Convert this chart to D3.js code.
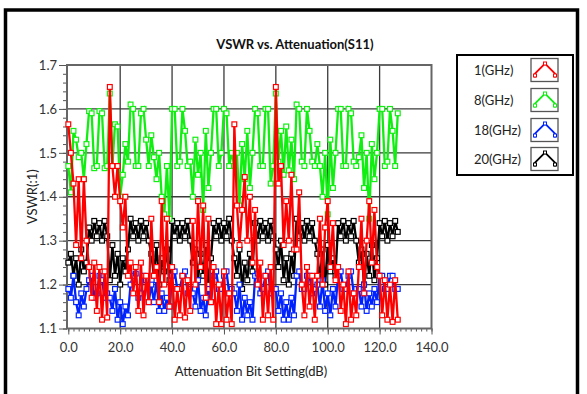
<!DOCTYPE html>
<html>
<head>
<meta charset="utf-8">
<script src="https://cdn.jsdelivr.net/npm/d3@7"></script>
<style>
  body { margin: 0; background: #fff; }
  svg { display: block; font-family: Lato, "Liberation Sans", sans-serif; }
</style>
</head>
<body>
<svg width="587" height="394"></svg>
<script>
// legend labels and colours
const seriesNames = ["1(GHz)", "8(GHz)", "18(GHz)", "20(GHz)"];
const seriesColors = ["#ff0000", "#11ee11", "#0022ff", "#000000"];
const xTicks = [0, 20, 40, 60, 80, 100, 120, 140];
const yTicks = [1.1, 1.2, 1.3, 1.4, 1.5, 1.6, 1.7];

// VSWR per attenuation bit setting 0..127 (array index = setting)
const vswr1GHz = [
  1.565,1.50,1.43,1.29,1.44,1.26,1.44,1.30, 1.24,1.17,1.25,1.14,1.24,1.12,1.23,1.125,
  1.65,1.47,1.40,1.47,1.39,1.33,1.40,1.22, 1.25,1.18,1.24,1.14,1.25,1.13,1.22,1.16,
  1.35,1.22,1.24,1.16,1.39,1.20,1.35,1.15, 1.24,1.12,1.19,1.13,1.22,1.125,1.21,1.14,
  1.345,1.20,1.39,1.24,1.38,1.17,1.35,1.16, 1.24,1.11,1.20,1.11,1.23,1.12,1.18,1.11,
  1.565,1.38,1.29,1.37,1.445,1.30,1.40,1.25, 1.37,1.20,1.25,1.12,1.22,1.13,1.24,1.12,
  1.65,1.43,1.47,1.29,1.39,1.30,1.45,1.28, 1.28,1.41,1.20,1.13,1.24,1.15,1.22,1.12,
  1.22,1.35,1.20,1.33,1.39,1.24,1.34,1.21, 1.24,1.14,1.20,1.11,1.23,1.12,1.18,1.13,
  1.24,1.35,1.18,1.30,1.39,1.25,1.37,1.24, 1.22,1.13,1.21,1.12,1.20,1.115,1.21,1.12
];
const vswr8GHz = [
  1.47,1.41,1.55,1.53,1.49,1.50,1.44,1.52, 1.595,1.59,1.465,1.47,1.595,1.59,1.465,1.47,
  1.635,1.47,1.565,1.56,1.40,1.45,1.52,1.48, 1.61,1.60,1.47,1.47,1.59,1.60,1.53,1.47,
  1.54,1.49,1.44,1.50,1.40,1.36,1.47,1.35, 1.60,1.60,1.47,1.48,1.60,1.55,1.47,1.48,
  1.40,1.53,1.45,1.50,1.37,1.55,1.42,1.50, 1.60,1.60,1.47,1.50,1.60,1.59,1.47,1.50,
  1.47,1.50,1.38,1.52,1.44,1.55,1.42,1.50, 1.60,1.59,1.47,1.47,1.60,1.60,1.43,1.47,
  1.635,1.48,1.55,1.45,1.56,1.46,1.53,1.44, 1.61,1.60,1.48,1.47,1.60,1.55,1.48,1.47,
  1.52,1.47,1.40,1.50,1.36,1.53,1.42,1.50, 1.60,1.60,1.47,1.47,1.60,1.59,1.48,1.47,
  1.49,1.54,1.42,1.50,1.35,1.52,1.44,1.50, 1.60,1.60,1.47,1.48,1.60,1.55,1.47,1.59
];
const vswr18GHz = [
  1.19,1.17,1.22,1.16,1.13,1.18,1.15,1.19, 1.21,1.22,1.17,1.18,1.22,1.21,1.17,1.18,
  1.17,1.14,1.19,1.12,1.16,1.11,1.15,1.13, 1.20,1.22,1.225,1.17,1.18,1.22,1.21,1.16,
  1.20,1.16,1.21,1.14,1.18,1.14,1.17,1.15, 1.22,1.23,1.19,1.19,1.22,1.23,1.18,1.19,
  1.18,1.15,1.21,1.14,1.17,1.13,1.19,1.16, 1.22,1.23,1.19,1.19,1.22,1.23,1.18,1.19,
  1.18,1.14,1.20,1.12,1.17,1.13,1.16,1.12, 1.22,1.225,1.18,1.19,1.22,1.23,1.18,1.19,
  1.19,1.14,1.18,1.12,1.16,1.12,1.17,1.13, 1.22,1.23,1.19,1.19,1.22,1.22,1.18,1.19,
  1.20,1.15,1.21,1.14,1.18,1.13,1.19,1.15, 1.22,1.23,1.19,1.19,1.22,1.23,1.18,1.19,
  1.19,1.15,1.20,1.14,1.18,1.15,1.19,1.16, 1.22,1.22,1.19,1.19,1.22,1.22,1.19,1.19
];
const vswr20GHz = [
  1.25,1.27,1.22,1.26,1.20,1.28,1.23,1.25, 1.33,1.30,1.345,1.31,1.34,1.30,1.345,1.31,
  1.21,1.29,1.22,1.27,1.20,1.26,1.23,1.28, 1.35,1.31,1.34,1.30,1.345,1.31,1.34,1.30,
  1.27,1.22,1.29,1.20,1.26,1.23,1.28,1.21, 1.345,1.31,1.34,1.30,1.34,1.31,1.345,1.30,
  1.25,1.28,1.21,1.27,1.22,1.29,1.20,1.26, 1.34,1.31,1.345,1.30,1.34,1.31,1.35,1.30,
  1.26,1.22,1.28,1.19,1.25,1.21,1.27,1.23, 1.34,1.30,1.345,1.31,1.34,1.30,1.345,1.31,
  1.28,1.24,1.30,1.21,1.26,1.20,1.27,1.22, 1.35,1.31,1.34,1.30,1.345,1.31,1.34,1.30,
  1.27,1.21,1.28,1.20,1.29,1.23,1.26,1.22, 1.34,1.31,1.345,1.30,1.34,1.31,1.345,1.30,
  1.25,1.28,1.20,1.27,1.22,1.29,1.21,1.26, 1.34,1.31,1.345,1.30,1.34,1.31,1.345,1.32
];
const seriesValues = [vswr1GHz, vswr8GHz, vswr18GHz, vswr20GHz];

const svg = d3.select("svg");
const plot = {left: 67, right: 431.5, top: 65, bottom: 328.5};

const x = d3.scaleLinear().domain([-0.5, 140]).range([plot.left, plot.right]);
const y = d3.scaleLinear().domain([1.1, 1.7]).range([plot.bottom, plot.top]);

// outer window frame
svg.append("path")
  .attr("d", "M5.5,394V10H577.5V394")
  .attr("fill", "none")
  .attr("stroke", "#000")
  .attr("stroke-width", 3.5);

svg.append("rect")
  .attr("x", plot.left).attr("y", plot.top)
  .attr("width", plot.right - plot.left).attr("height", plot.bottom - plot.top)
  .attr("fill", "#fff");

// grid
const grid = svg.append("g").attr("stroke", "#3a3a3a").attr("stroke-width", 1.3);
grid.selectAll(".gx").data(xTicks.slice(1, -1)).enter().append("line")
  .attr("x1", d => x(d)).attr("x2", d => x(d))
  .attr("y1", plot.top).attr("y2", plot.bottom);
grid.selectAll(".gy").data(yTicks.slice(1, -1)).enter().append("line")
  .attr("x1", plot.left).attr("x2", plot.right)
  .attr("y1", d => y(d)).attr("y2", d => y(d));

// axes
svg.append("g")
  .attr("transform", "translate(0," + plot.bottom + ")")
  .call(d3.axisBottom(x).tickValues(xTicks).tickFormat(d3.format(".1f")).tickSize(6).tickPadding(8));
svg.append("g")
  .attr("transform", "translate(0," + plot.bottom + ")")
  .call(d3.axisBottom(x).tickValues(d3.range(0, 141, 2)).tickFormat("").tickSize(3));

svg.append("g")
  .attr("transform", "translate(" + plot.left + ",0)")
  .call(d3.axisLeft(y).tickValues(yTicks).tickFormat(d3.format(".1f")).tickSize(8).tickPadding(2));
svg.append("g")
  .attr("transform", "translate(" + plot.left + ",0)")
  .call(d3.axisLeft(y).tickValues(d3.range(1.1, 1.7001, 0.02)).tickFormat("").tickSize(4));

svg.selectAll(".domain").remove();
svg.selectAll(".tick line").attr("stroke", "#555");
svg.selectAll(".tick text").attr("fill", "#333").style("font-size", "13px").style("font-family", "Lato, sans-serif");

svg.append("rect")
  .attr("x", plot.left).attr("y", plot.top)
  .attr("width", plot.right - plot.left).attr("height", plot.bottom - plot.top)
  .attr("fill", "none").attr("stroke", "#666").attr("stroke-width", 2);

// series, drawn so that red ends up on top
const line = d3.line().x((d, i) => x(i)).y(d => y(d));
[3, 2, 1, 0].forEach(k => {
  const g = svg.append("g");
  g.append("path")
    .datum(seriesValues[k])
    .attr("d", line)
    .attr("fill", "none")
    .attr("stroke", seriesColors[k])
    .attr("stroke-width", 2.3);
  g.selectAll("rect").data(seriesValues[k]).enter().append("rect")
    .attr("x", (d, i) => x(i) - 2.4).attr("y", d => y(d) - 2.4)
    .attr("width", 4.8).attr("height", 4.8)
    .attr("fill", "#fff")
    .attr("stroke", seriesColors[k])
    .attr("stroke-width", 1.2);
});

// titles
svg.append("text")
  .attr("x", 295).attr("y", 48.5)
  .attr("text-anchor", "middle")
  .style("font-size", "13px").style("font-weight", "bold")
  .attr("fill", "#111")
  .text("VSWR vs. Attenuation(S11)");

svg.append("text")
  .attr("x", 251).attr("y", 376)
  .attr("text-anchor", "middle")
  .style("font-size", "13px")
  .attr("fill", "#222")
  .text("Attenuation Bit Setting(dB)");

svg.append("text")
  .attr("transform", "translate(37," + ((plot.top + plot.bottom) / 2) + ") rotate(-90)")
  .attr("text-anchor", "middle")
  .style("font-size", "13px")
  .attr("fill", "#222")
  .text("VSWR(:1)");

// legend
const legend = svg.append("g");
legend.append("rect")
  .attr("x", 457).attr("y", 55).attr("width", 116).attr("height", 120)
  .attr("fill", "#fff").attr("stroke", "#000").attr("stroke-width", 2);

const rowY = [70, 100, 130, 159];
seriesNames.forEach((name, k) => {
  const cy = rowY[k];
  legend.append("text")
    .attr("x", 474).attr("y", cy + 4.5)
    .style("font-size", "13px")
    .attr("fill", "#222")
    .text(name);
  const sx = 531, sy = cy - 11.5;
  legend.append("rect")
    .attr("x", sx).attr("y", sy).attr("width", 27).attr("height", 23)
    .attr("fill", "#fff").attr("stroke", "#555").attr("stroke-width", 1.3);
  legend.append("path")
    .attr("d", `M${sx + 4},${sy + 19}V${sy + 15}L${sx + 14},${sy + 5}L${sx + 24},${sy + 15}V${sy + 19}`)
    .attr("fill", "none").attr("stroke", seriesColors[k]).attr("stroke-width", 1.8);
  [[4, 17], [14, 5], [24, 17]].forEach(p => {
    legend.append("rect")
      .attr("x", sx + p[0] - 1.5).attr("y", sy + p[1] - 1.5)
      .attr("width", 3).attr("height", 3)
      .attr("fill", "#fff").attr("stroke", seriesColors[k]).attr("stroke-width", 1);
  });
});
</script>
</body>
</html>
